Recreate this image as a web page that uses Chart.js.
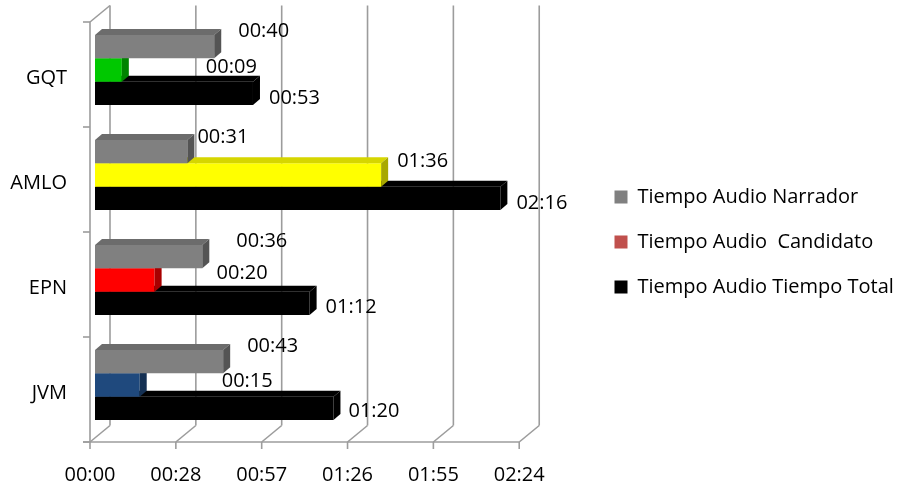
<!DOCTYPE html>
<html lang="es">
<head>
<meta charset="utf-8">
<title>Tiempo de audio por candidato</title>
<script src="https://cdn.jsdelivr.net/npm/chart.js@4.4.1/dist/chart.umd.min.js"></script>
<style>
  html, body { margin: 0; padding: 0; background: #ffffff; }
  #wrap { position: relative; width: 908px; height: 488px; }
</style>
</head>
<body>
<div id="wrap"><canvas id="chart"></canvas></div>
<script>
// Candidates, listed top to bottom
const candidates = ['GQT', 'AMLO', 'EPN', 'JVM'];
// Audio times in seconds
const narrador  = [40, 31, 36, 43];
const candidato = [9, 96, 20, 15];
const total     = [53, 136, 72, 80];
const seriesNames = ['Tiempo Audio Narrador', 'Tiempo Audio  Candidato', 'Tiempo Audio Tiempo Total'];
// Value axis ticks (seconds) and how they are printed
const tickValues = [0, 28.8, 57.6, 86.4, 115.2, 144];
const tickLabels = ['00:00', '00:28', '00:57', '01:26', '01:55', '02:24'];

// Styling
const FONT = { family: '"Open Sans", "Liberation Sans", sans-serif', size: 20 };
const candidateColors = ['#00C800', '#FFFF00', '#FF0000', '#1F497D'];
const legendColors = ['#808080', '#C0504D', '#000000'];
const GRID = '#9c9c9c';
const BAR_DEPTH = { dx: 7, dy: -6 };      // depth of each 3-D bar
const FRONT = { dx: -5, dy: 4.5 };        // front edge of the floor, relative to the bar plane
const BACK = { dx: 15, dy: -12 };         // back wall, relative to the bar plane
const LEGEND_SPACE = 318.5;               // room kept right of the plot for the legend
// where each value label sits relative to the end of its bar [dx, dy]
const labelNudge = [
  [[24, -15], [10, -14], [34, -15], [24, -15]],
  [[84, -3], [16, -14], [62, -7], [82, -4]],
  [[16, 5], [16, 5], [16, 4], [15, 3]]
];

function mmss(sec) {
  const m = Math.floor(sec / 60), s = Math.round(sec % 60);
  return String(m).padStart(2, '0') + ':' + String(s).padStart(2, '0');
}

function shade(hex, f) {
  const n = parseInt(hex.slice(1), 16);
  const r = Math.round(((n >> 16) & 255) * f);
  const g = Math.round(((n >> 8) & 255) * f);
  const b = Math.round((n & 255) * f);
  return `rgb(${r},${g},${b})`;
}

function poly(ctx, pts) {
  ctx.beginPath();
  ctx.moveTo(pts[0][0], pts[0][1]);
  for (let i = 1; i < pts.length; i++) ctx.lineTo(pts[i][0], pts[i][1]);
  ctx.closePath();
  ctx.fill();
}

function seg(ctx, x1, y1, x2, y2) {
  ctx.beginPath();
  ctx.moveTo(x1, y1);
  ctx.lineTo(x2, y2);
  ctx.stroke();
}

// Floor, walls and gridlines of the 3-D frame, plus bar faces and value labels
const frame3d = {
  id: 'frame3d',
  beforeDatasetsDraw(chart) {
    const { ctx, scales: { x: xs, y: ys } } = chart;
    const top = ys.getPixelForValue(-0.5);
    const bottom = ys.getPixelForValue(candidates.length - 0.5);
    const x0 = xs.getPixelForValue(0);
    const xEnd = xs.getPixelForValue(tickValues[tickValues.length - 1]);
    ctx.save();
    ctx.strokeStyle = GRID;
    ctx.lineWidth = 1.6;
    tickValues.forEach(v => {
      const px = xs.getPixelForValue(v);
      seg(ctx, px + BACK.dx, top + BACK.dy, px + BACK.dx, bottom + BACK.dy);
      seg(ctx, px + FRONT.dx, bottom + FRONT.dy, px + BACK.dx, bottom + BACK.dy);
      seg(ctx, px + FRONT.dx, bottom + FRONT.dy, px + FRONT.dx, bottom + FRONT.dy + 7);
    });
    seg(ctx, x0 + FRONT.dx - 7, bottom + FRONT.dy, xEnd + FRONT.dx, bottom + FRONT.dy);
    seg(ctx, x0 + FRONT.dx, top + FRONT.dy, x0 + FRONT.dx, bottom + FRONT.dy);
    seg(ctx, x0 + FRONT.dx, top + FRONT.dy, x0 + BACK.dx, top + BACK.dy);
    for (let i = 0; i <= candidates.length; i++) {
      const py = ys.getPixelForValue(i - 0.5) + FRONT.dy;
      seg(ctx, x0 + FRONT.dx - 7, py, x0 + FRONT.dx, py);
    }
    ctx.restore();
  },
  afterDatasetDraw(chart, args) {
    const ctx = chart.ctx;
    const ds = chart.data.datasets[args.index];
    const { dx, dy } = BAR_DEPTH;
    ctx.save();
    args.meta.data.forEach((el, i) => {
      const { x, y, base, height } = el.getProps(['x', 'y', 'base', 'height'], true);
      const t = y - height / 2, b = y + height / 2;
      const col = Array.isArray(ds.backgroundColor) ? ds.backgroundColor[i] : ds.backgroundColor;
      ctx.fillStyle = shade(col, 0.84);
      poly(ctx, [[base, t], [base + dx, t + dy], [x + dx, t + dy], [x, t]]);
      ctx.fillStyle = shade(col, 0.66);
      poly(ctx, [[x, t], [x + dx, t + dy], [x + dx, b + dy], [x, b]]);
    });
    ctx.restore();
  },
  afterDatasetsDraw(chart) {
    const ctx = chart.ctx;
    ctx.save();
    ctx.font = `${FONT.size}px ${FONT.family}`;
    ctx.fillStyle = '#000000';
    ctx.textAlign = 'left';
    ctx.textBaseline = 'middle';
    chart.data.datasets.forEach((ds, d) => {
      chart.getDatasetMeta(d).data.forEach((el, i) => {
        const [nx, ny] = labelNudge[d][i];
        ctx.fillText(mmss(ds.data[i]), el.x + nx, el.y + ny);
      });
    });
    ctx.restore();
  }
};

new Chart(document.getElementById('chart'), {
  type: 'bar',
  data: {
    labels: candidates,
    datasets: [
      { label: seriesNames[0], data: narrador, backgroundColor: '#808080' },
      { label: seriesNames[1], data: candidato, backgroundColor: candidateColors },
      { label: seriesNames[2], data: total, backgroundColor: '#000000' }
    ]
  },
  options: {
    indexAxis: 'y',
    responsive: true,
    maintainAspectRatio: false,
    animation: false,
    devicePixelRatio: 1,
    datasets: { bar: { barPercentage: 1, categoryPercentage: 2 / 3, borderWidth: 0 } },
    layout: { padding: { top: 0, bottom: 4, left: 0, right: 0 } },
    plugins: {
      tooltip: { enabled: false },
      legend: {
        position: 'right',
        maxWidth: LEGEND_SPACE,
        labels: {
          boxWidth: 13,
          boxHeight: 13,
          padding: 25,
          color: '#000000',
          font: FONT,
          generateLabels: () => seriesNames.map((text, i) => ({
            text, fillStyle: legendColors[i], strokeStyle: legendColors[i],
            lineWidth: 0, hidden: false, datasetIndex: i, fontColor: '#000000'
          }))
        }
      }
    },
    scales: {
      x: {
        type: 'linear',
        position: 'bottom',
        min: 0,
        max: 165.9,
        afterBuildTicks: s => { s.ticks = tickValues.map(v => ({ value: v })); },
        afterFit: s => { s.height = 46.5; s.paddingLeft = 0; s.paddingRight = LEGEND_SPACE; },
        grid: { display: false, drawTicks: false },
        border: { display: false },
        ticks: {
          autoSkip: false, maxRotation: 0, padding: 26, labelOffset: -5,
          color: '#000000', font: FONT,
          callback: (v, i) => tickLabels[i]
        }
      },
      y: {
        type: 'category',
        position: 'left',
        offset: true,
        afterFit: s => { s.width = 95; s.paddingTop = 17.5; s.paddingBottom = 0; },
        grid: { display: false, drawTicks: false },
        border: { display: false },
        ticks: { padding: 28, labelOffset: 8, color: '#000000', font: FONT }
      }
    }
  },
  plugins: [frame3d]
});
</script>
</body>
</html>
